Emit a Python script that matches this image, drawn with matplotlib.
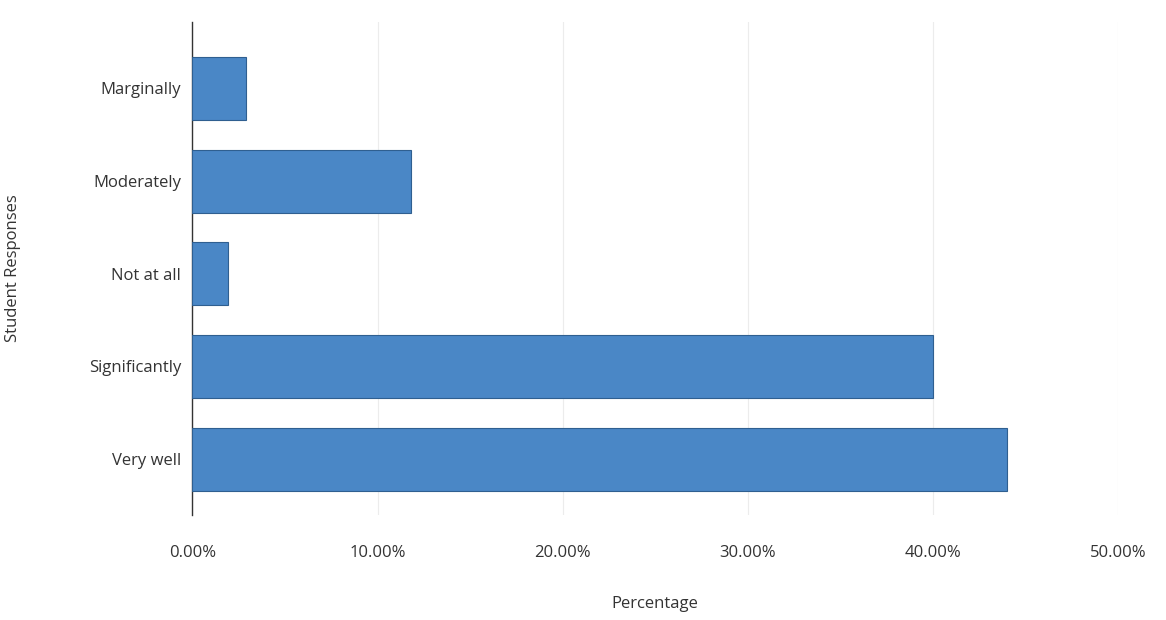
import numpy as np
import matplotlib as mpl
import matplotlib.pyplot as plt

mpl.rcParams['font.family'] = ['Open Sans', 'DejaVu Sans']

# data (top to bottom)
categories = ['Marginally', 'Moderately', 'Not at all', 'Significantly', 'Very well']
percentages = [2.9, 11.8, 1.9, 40.0, 44.0]
x_ticks = [0, 10, 20, 30, 40, 50]

fig = plt.figure(figsize=(11.66, 6.2), dpi=100)
ax = fig.add_axes([0.165, 0.17, 0.794, 0.795])

y = np.arange(len(categories))
ax.barh(y, percentages, height=0.68, color='#4a87c6', edgecolor='#2f5f90',
        linewidth=0.8, zorder=3)

ax.set_ylim(len(categories) - 0.4, -0.72)
ax.set_xlim(0, 50)
ax.set_yticks(y)
ax.set_yticklabels(categories, fontsize=12, color='#333333')
ax.set_xticks(x_ticks)
ax.set_xticklabels(['{:.2f}%'.format(v) for v in x_ticks], fontsize=12, color='#333333')
ax.tick_params(axis='x', length=0, pad=22)
ax.tick_params(axis='y', length=0, pad=8)

ax.grid(True, axis='x', color='#ececec', linewidth=0.8, zorder=0)
for side in ['top', 'right', 'bottom']:
    ax.spines[side].set_visible(False)
ax.spines['left'].set_color('#333333')
ax.spines['left'].set_linewidth(1.0)

ax.set_xlabel('Percentage', fontsize=12, color='#333333')
ax.set_ylabel('Student Responses', fontsize=12, color='#333333')
ax.yaxis.set_label_coords(-0.185, 0.5)
ax.xaxis.set_label_coords(0.5, -0.165)

fig.savefig('out.png', dpi=100)
